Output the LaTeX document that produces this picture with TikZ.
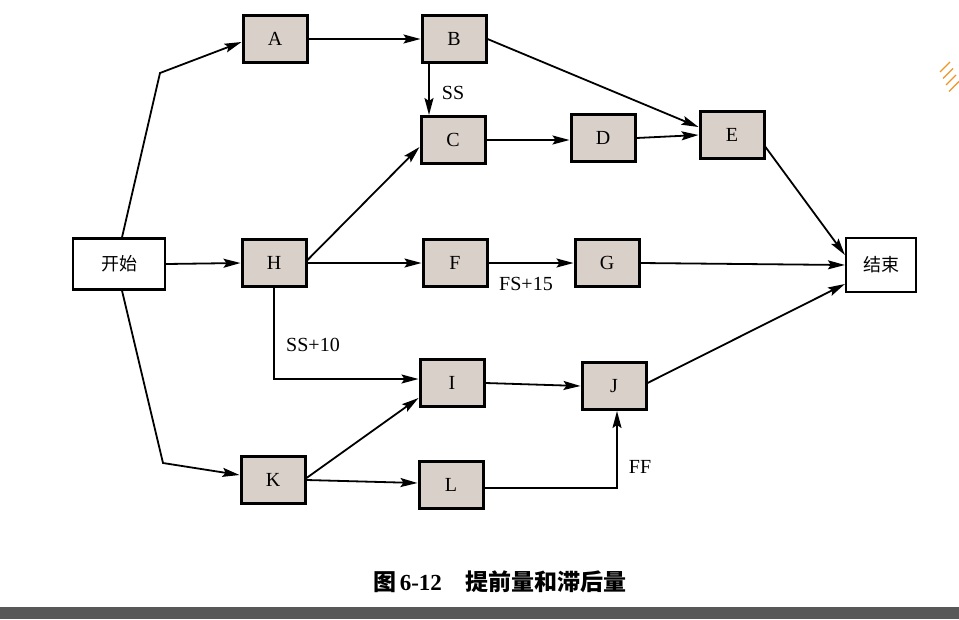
\documentclass[tikz,border=0pt]{standalone}
\usepackage{fontspec}
\setmainfont{Liberation Serif}
\newfontfamily\cjk{Noto Sans CJK SC}
\usetikzlibrary{arrows.meta,calc}
\definecolor{boxfill}{RGB}{218,208,202}
\definecolor{barc}{RGB}{88,88,88}
\definecolor{scrib}{RGB}{240,150,40}
\begin{document}
\begin{tikzpicture}[x=1pt,y=-1pt,
 box/.style={draw, line width=3pt, fill=boxfill, minimum width=64pt, minimum height=47pt, inner sep=0pt, font=\fontsize{20}{23}\selectfont},
 termbox/.style={draw, line width=2.2pt, fill=white, inner sep=0pt, font=\cjk\fontsize{18}{22}\selectfont},
 conn/.style={line width=1.8pt, -{Stealth[length=17pt,width=9pt,inset=3pt]}},
 lbl/.style={font=\fontsize{20}{23}\selectfont, inner sep=0pt}]
\useasboundingbox (0,0) rectangle (959,619);
\fill[white] (0,0) rectangle (959,619);
\fill[barc] (0,607) rectangle (959,619);
% scan mark
\foreach \d in {0,5,10,15}
  \draw[scrib, line width=1.3pt] (940+\d*0.6,72+\d*1.3) -- (950+\d*0.6,62+\d*1.3);
% nodes
\node[termbox, minimum width=92pt, minimum height=51pt] (start) at (119,264) {开始};
\node[termbox, minimum width=70pt, minimum height=54pt] (end) at (881,265) {结束};
\node[box] (A) at (275,39) {A};
\node[box] (B) at (454,39) {B};
\node[box] (C) at (453,140) {C};
\node[box] (D) at (603,138) {D};
\node[box] (E) at (732,135) {E};
\node[box] (H) at (274,263) {H};
\node[box] (F) at (455,263) {F};
\node[box] (G) at (607,263) {G};
\node[box] (I) at (452,383) {I};
\node[box] (J) at (614,386) {J};
\node[box] (K) at (273,480) {K};
\node[box] (L) at (451,485) {L};
% bend points
\coordinate (sa) at (160,73);
\coordinate (sk) at (163,463);
% connectors
\draw[conn] ([xshift=3pt]start.north) -- (sa) -- ([yshift=-3pt]A.west);
\draw[conn] (start.east) -- (H.west);
\draw[conn] ([xshift=3pt]start.south) -- (sk) -- ([yshift=5pt]K.west);
\draw[conn] (A.east) -- (B.west);
\draw[conn] ([xshift=-25pt]B.south) -- ([xshift=-24pt]C.north);
\draw[conn] (B.east) -- ([yshift=8pt]E.west);
\draw[conn] (C.east) -- (C.east -| D.west);
\draw[conn] (D.east) -- (E.west);
\draw[conn] ([yshift=-12pt]E.east) -- ([yshift=10pt]end.west);
\draw[conn] ([yshift=3pt]H.east) -- ([yshift=-7pt]C.west);
\draw[conn] (H.east) -- (F.west);
\draw[conn] (F.east) -- (G.west);
\draw[conn] (G.east) -- (end.west);
\draw[conn] (H.south) |- ([yshift=4pt]I.west);
\draw[conn] ([yshift=2pt]K.east) -- ([yshift=-15pt]I.west);
\draw[conn] (K.east) -- ([yshift=2pt]L.west);
\draw[conn] (I.east) -- (J.west);
\draw[conn] ([yshift=3pt]J.east) -- ([yshift=-19pt]end.west);
\draw[conn] ([yshift=-3pt]L.east) -| ([xshift=3pt]J.south);
% labels
\node[lbl] (lss) at (453,93) {SS};
\node[lbl] (lfs) at (526,284) {FS+15};
\node[lbl] (lss10) at (313,345) {SS+10};
\node[lbl] (lff) at (640,467) {FF};
% caption
\node[font=\fontsize{23}{26}\selectfont\bfseries, inner sep=0pt] (cap) at (500,582) {{\cjk\bfseries 图}\,6-12\hspace{24pt}{\cjk\bfseries 提前量和滞后量}};
\end{tikzpicture}
\end{document}
